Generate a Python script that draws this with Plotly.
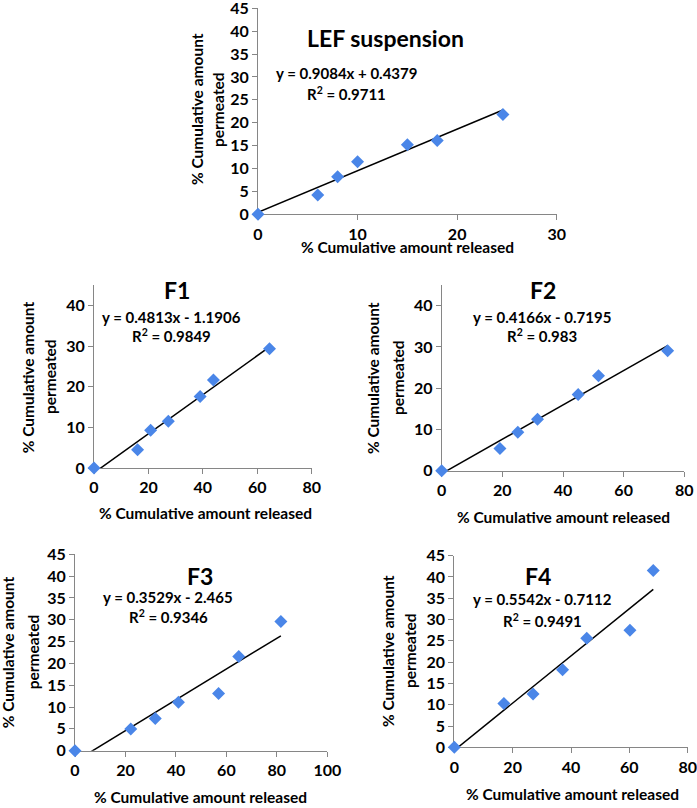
import plotly.graph_objects as go

# ---------------- data ----------------
lef_x = [0, 6, 8, 10, 15, 18, 24.6]
lef_y = [0, 4.2, 8.2, 11.5, 15.2, 16.1, 21.8]
f1_x = [0, 16, 20.8, 27.3, 39, 43.9, 64.5]
f1_y = [0, 4.5, 9.3, 11.5, 17.6, 21.7, 29.4]
f2_x = [0, 19.2, 25.1, 31.6, 45, 51.7, 74.5]
f2_y = [0, 5.4, 9.3, 12.5, 18.5, 23.0, 29.1]
f3_x = [0, 22.1, 31.8, 41, 56.9, 64.9, 81.6]
f3_y = [0, 5.0, 7.4, 11.1, 13.1, 21.6, 29.6]
f4_x = [0, 17, 27, 37.1, 45.4, 60.2, 68.2]
f4_y = [0, 10.3, 12.5, 18.2, 25.6, 27.5, 41.5]

titles = ["LEF suspension", "F1", "F2", "F3", "F4"]
slopes = [0.9084, 0.4813, 0.4166, 0.3529, 0.5542]
intercepts = [0.4379, -1.1906, -0.7195, -2.465, -0.7112]
eq_texts = ["y = 0.9084x + 0.4379", "y = 0.4813x - 1.1906", "y = 0.4166x - 0.7195",
            "y = 0.3529x - 2.465", "y = 0.5542x - 0.7112"]
r2_texts = ["0.9711", "0.9849", "0.983", "0.9346", "0.9491"]
x_ranges = [[0, 30], [0, 80], [0, 80], [0, 100], [0, 80]]
x_dticks = [10, 20, 20, 20, 20]
y_ranges = [[0, 45], [0, 45], [0, 45], [0, 45], [0, 45]]
y_dticks = [5, 10, 10, 5, 5]
x_label = "% Cumulative amount released"
y_label1 = "% Cumulative amount"
y_label2 = "permeated"

series = [(lef_x, lef_y), (f1_x, f1_y), (f2_x, f2_y), (f3_x, f3_y), (f4_x, f4_y)]

# ---------------- layout geometry (page pixels) ----------------
W, H = 697, 808
def px(x): return x / W
def py(y): return 1 - y / H

# plot boxes: (left, right, top, bottom) in page pixels
boxes = [
    (258, 556.7, 8.3, 214.3),
    (94, 311.7, 285.4, 468),
    (441.7, 684.3, 285.1, 470.7),
    (75, 327.3, 554.3, 750.7),
    (454.3, 687.7, 555.7, 747.3),
]
# text positions
title_pos = [(385, 38), (177, 290), (542.7, 290), (200, 576), (538.3, 576)]
eq_pos = [(346.7, 73.3), (171.7, 316.7), (541.7, 316.7), (168.3, 597.3), (542.3, 599.3)]
r2_pos = [(346.7, 93.3), (171.7, 336), (541.7, 335), (168.3, 616.7), (542.3, 620)]
xt_pos = [(407, 246.7), (205, 513), (563, 517), (200, 797), (572, 794)]
yt_pos = [(197, 218, 109), (28.3, 50, 377), (373, 398, 378), (8.3, 33.3, 652), (388, 410, 651)]

FONT = "Lato, 'Open Sans', Arial, sans-serif"
MARK = "#4a86e8"
AXC = "#868686"

fig = go.Figure()
annotations = []
for i, ((xs, ys), box) in enumerate(zip(series, boxes)):
    n = "" if i == 0 else str(i + 1)
    xa, ya = "x" + n, "y" + n
    m, b = slopes[i], intercepts[i]
    x0, x1 = min(xs), max(xs)
    fig.add_trace(go.Scatter(x=[x0, x1], y=[m * x0 + b, m * x1 + b], mode="lines",
                             line=dict(color="black", width=1.5), xaxis=xa, yaxis=ya,
                             showlegend=False, hoverinfo="skip"))
    fig.add_trace(go.Scatter(x=xs, y=ys, mode="markers",
                             marker=dict(symbol="diamond", size=10, color=MARK),
                             xaxis=xa, yaxis=ya, showlegend=False, cliponaxis=False))
    l, r, t, bt = box
    axcommon = dict(showgrid=False, zeroline=False, showline=True, linecolor=AXC, linewidth=1,
                    ticks="outside", ticklen=5, tickcolor=AXC, layer="below traces",
                    automargin=False, ticklabeloverflow="allow",
                    tickfont=dict(family=FONT, size=16, color="black", weight="bold"))
    fig.update_layout(**{
        ("xaxis" + n): dict(domain=[px(l), px(r)], range=x_ranges[i], dtick=x_dticks[i],
                            anchor=ya, **axcommon),
        ("yaxis" + n): dict(domain=[py(bt), py(t)], range=y_ranges[i], dtick=y_dticks[i],
                            anchor=xa, **axcommon),
    })
    def ann(x, y, text, size, angle=0):
        annotations.append(dict(x=px(x), y=py(y), xref="paper", yref="paper", text=text,
                                showarrow=False, xanchor="center", yanchor="middle",
                                textangle=angle,
                                font=dict(family=FONT, size=size, color="black", weight="bold")))
    ann(*title_pos[i], titles[i], 23)
    ann(*eq_pos[i], eq_texts[i], 15)
    ann(*r2_pos[i], "R<sup>2</sup> = " + r2_texts[i], 15)
    ann(*xt_pos[i], x_label, 15.5)
    yx1, yx2, yy = yt_pos[i]
    ann(yx1, yy, y_label1, 15.5, -90)
    ann(yx2, yy, y_label2, 15.5, -90)

fig.update_layout(width=W, height=H, margin=dict(l=0, r=0, t=0, b=0),
                  paper_bgcolor="white", plot_bgcolor="white", annotations=annotations)
fig.write_html("out.html", config={"displayModeBar": False},
               post_script="document.body.style.margin='0px';document.body.style.overflow='hidden';")
